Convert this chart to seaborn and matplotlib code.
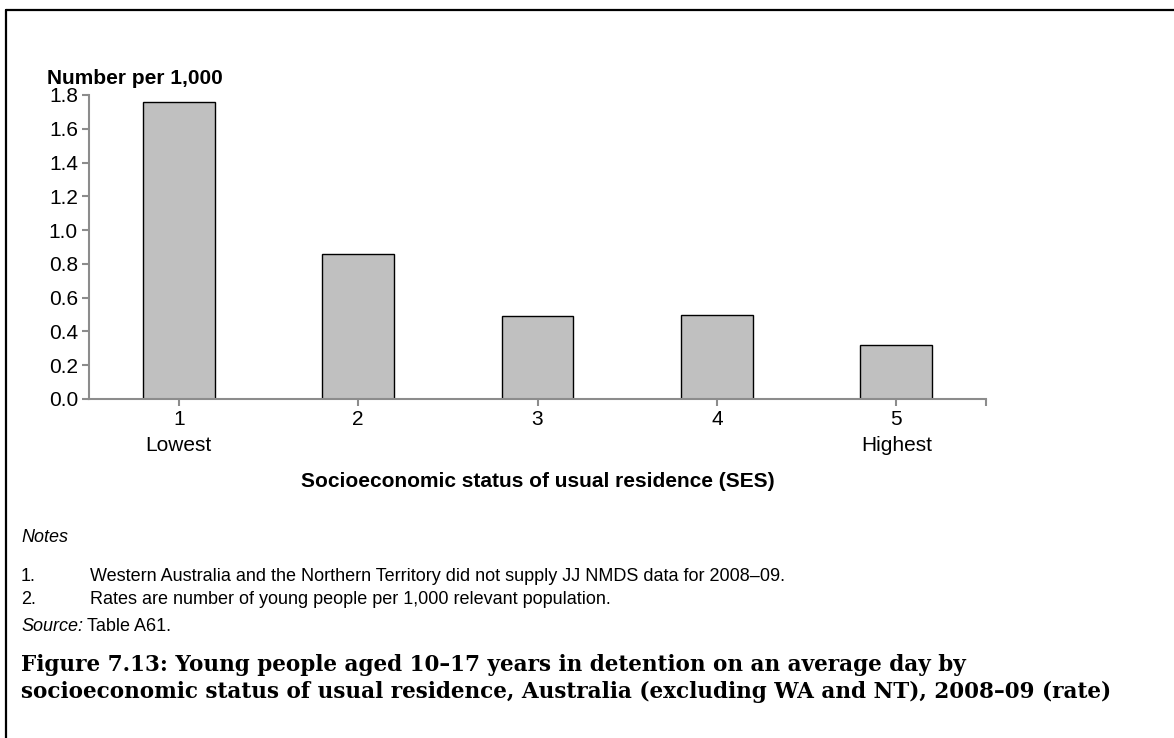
import pandas as pd
import matplotlib
matplotlib.use("Agg")
import matplotlib.pyplot as plt
import seaborn as sns
from matplotlib.lines import Line2D

sns.set_theme(style="white")
plt.rcParams['font.family'] = ['Liberation Sans', 'DejaVu Sans']
plt.rcParams['text.color'] = 'black'
plt.rcParams['axes.labelcolor'] = 'black'

# data
ses = ["1\nLowest", "2", "3", "4", "5\nHighest"]
rate = [1.76, 0.86, 0.49, 0.50, 0.32]
yticks = [0.0, 0.2, 0.4, 0.6, 0.8, 1.0, 1.2, 1.4, 1.6, 1.8]

df = pd.DataFrame({"ses": ses, "rate": rate})

fig = plt.figure(figsize=(11.74, 7.38), dpi=100)
ax = fig.add_axes([89 / 1174, 1 - 399 / 738, (986 - 89) / 1174, (399 - 95) / 738])

sns.barplot(data=df, x="ses", y="rate", order=ses, color="#c0c0c0",
            width=0.4, edgecolor="black", linewidth=1.0, saturation=1, ax=ax)

grey = "#8c8c8c"
ax.set_xlim(-0.5, 4.5)
ax.set_ylim(0, 1.8)
ax.set_yticks(yticks)
ax.set_yticklabels([f"{v:.1f}" for v in yticks])
ax.set_xticks([4.5], minor=True)
for s in ["top", "right"]:
    ax.spines[s].set_visible(False)
for s in ["left", "bottom"]:
    ax.spines[s].set_color(grey)
    ax.spines[s].set_linewidth(1.5)
ax.tick_params(axis="both", which="both", direction="out", length=5, width=1.5,
               color=grey, labelsize=15, labelcolor="black", pad=3)
ax.tick_params(axis="x", which="both", bottom=True)
ax.tick_params(axis="y", left=True)
for t in ax.get_xticklabels():
    t.set_linespacing(1.45)

ax.set_xlabel("Socioeconomic status of usual residence (SES)", fontsize=15,
              fontweight="bold", labelpad=12, color="black")
ax.set_ylabel("")
fig.text(47 / 1174, 1 - 78 / 738, "Number per 1,000", fontsize=15,
         fontweight="bold", va="center", ha="left")

# notes and source
fs_note = 13
fig.text(21 / 1174, 1 - 542 / 738, "Notes", fontsize=fs_note, style="italic", va="baseline")
fig.text(21 / 1174, 1 - 581 / 738, "1.", fontsize=fs_note, va="baseline")
fig.text(90 / 1174, 1 - 581 / 738,
         "Western Australia and the Northern Territory did not supply JJ NMDS data for 2008\u201309.",
         fontsize=fs_note, va="baseline")
fig.text(21 / 1174, 1 - 604 / 738, "2.", fontsize=fs_note, va="baseline")
fig.text(90 / 1174, 1 - 604 / 738,
         "Rates are number of young people per 1,000 relevant population.",
         fontsize=fs_note, va="baseline")
src = fig.text(21 / 1174, 1 - 631 / 738, "Source:", fontsize=fs_note, style="italic", va="baseline")
fig.canvas.draw()
bb = src.get_window_extent().transformed(fig.transFigure.inverted())
fig.text(bb.x1 + 4 / 1174, 1 - 631 / 738, "Table A61.", fontsize=fs_note, va="baseline")

cap_font = ["DejaVu Serif"]
fig.text(21 / 1174, 1 - 665 / 738,
         "Figure 7.13: Young people aged 10\u201317 years in detention on an average day by",
         fontsize=15.5, fontweight="bold", family=cap_font, va="center")
fig.text(21 / 1174, 1 - 692 / 738,
         "socioeconomic status of usual residence, Australia (excluding WA and NT), 2008\u201309 (rate)",
         fontsize=15.5, fontweight="bold", family=cap_font, va="center")

# frame lines (top and left)
fig.add_artist(Line2D([6 / 1174, 1], [1 - 10 / 738, 1 - 10 / 738], color="black", lw=1.6,
                      transform=fig.transFigure))
fig.add_artist(Line2D([6 / 1174, 6 / 1174], [0, 1 - 10 / 738], color="black", lw=1.6,
                      transform=fig.transFigure))

fig.savefig("out.png", dpi=100, facecolor="white")
